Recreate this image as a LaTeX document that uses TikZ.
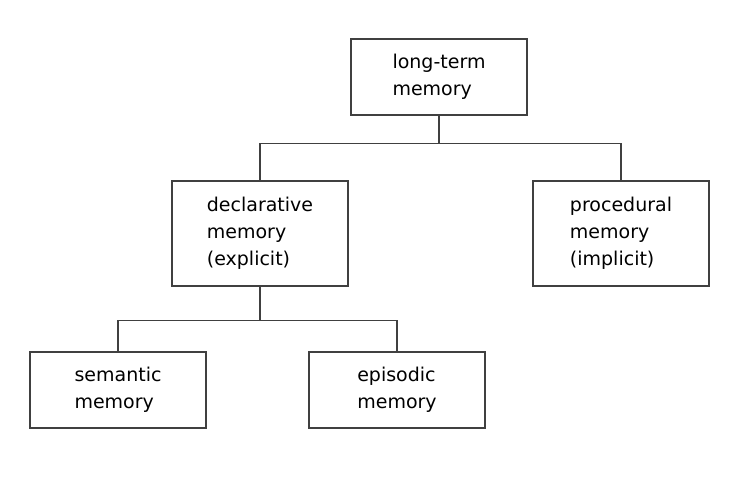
\documentclass[tikz,border=0pt]{standalone}
\usepackage{fontspec}
\setmainfont{DejaVu Sans}
\usepackage{tikz}
\usetikzlibrary{positioning}

\begin{document}
\begin{tikzpicture}[x=1pt, y=-1pt, line width=1.2pt,
    mem/.style={draw=black!75, minimum width=176pt, inner sep=0pt, align=left,
        font=\fontsize{19}{27}\selectfont}]

    \useasboundingbox (0,0) rectangle (746,484);

    \node[mem, minimum height=76pt] (lt) at (439, 77) {long-term\\memory};
    \node[mem, minimum height=105pt] (decl) at (260, 233.5) {declarative\\memory\\(explicit)};
    \node[mem, minimum height=105pt] (proc) at (621, 233.5) {procedural\\memory\\(implicit)};
    \node[mem, minimum height=76pt] (sem) at (118, 390) {semantic\\memory};
    \node[mem, minimum height=76pt] (epi) at (397, 390) {episodic\\memory};

    \draw[black!75]
        (lt.south) -- ++(0,28) -| (decl.north)
        (lt.south) -- ++(0,28) -| (proc.north)
        (decl.south) -- ++(0,34) -| (sem.north)
        (decl.south) -- ++(0,34) -| (epi.north);
\end{tikzpicture}
\end{document}
